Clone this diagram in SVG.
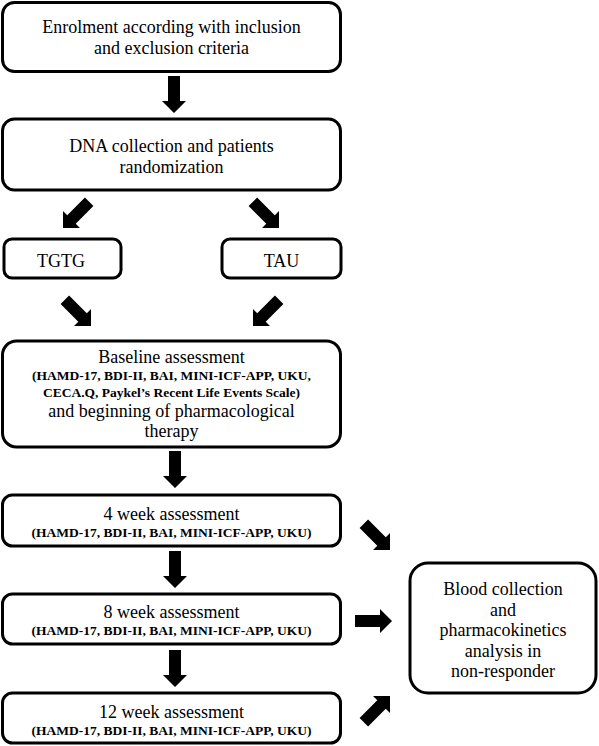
<svg xmlns="http://www.w3.org/2000/svg" xmlns:xlink="http://www.w3.org/1999/xlink" width="599" height="746" viewBox="0 0 599 746">
<style>
.box{fill:#fff;stroke:#000;stroke-width:3}
text{font-family:'Liberation Serif','Times New Roman','DejaVu Serif',serif;fill:#000;text-anchor:middle}
.t{font-size:18px}
.s{font-size:13.5px;font-weight:bold}
</style>
<defs>
<path id="arr" d="M0,0 L-12,-12 L-12,-6 L-37,-6 L-37,6 L-12,6 L-12,12 Z" fill="#000"/>
</defs>
<rect width="599" height="746" fill="#fff"/>
<g id="enrolment">
<rect class="box" x="2.5" y="2.5" width="338" height="69" rx="12"/>
<text class="t" x="171.5" y="33">Enrolment according with inclusion</text>
<text class="t" x="171.5" y="54">and exclusion criteria</text>
</g>
<g id="dna">
<rect class="box" x="2.5" y="119" width="338" height="71" rx="12"/>
<text class="t" x="171.5" y="152">DNA collection and patients</text>
<text class="t" x="171.5" y="173">randomization</text>
</g>
<g id="tgtg">
<rect class="box" x="4" y="239" width="117" height="39" rx="8"/>
<text class="t" x="61" y="267">TGTG</text>
</g>
<g id="tau">
<rect class="box" x="222" y="239" width="119" height="39" rx="8"/>
<text class="t" x="281.5" y="267">TAU</text>
</g>
<g id="baseline">
<rect class="box" x="2.5" y="341" width="338" height="106" rx="14"/>
<text class="t" x="171.5" y="363">Baseline assessment</text>
<text class="s" x="171.5" y="380">(HAMD-17, BDI-II, BAI, MINI-ICF-APP, UKU,</text>
<text class="s" x="171.5" y="397">CECA.Q, Paykel’s Recent Life Events Scale)</text>
<text class="t" x="171.5" y="417">and beginning of pharmacological</text>
<text class="t" x="171.5" y="437">therapy</text>
</g>
<g id="week4">
<rect class="box" x="2.5" y="495" width="338" height="51" rx="10"/>
<text class="t" x="171.5" y="520">4 week assessment</text>
<text class="s" x="171.5" y="537">(HAMD-17, BDI-II, BAI, MINI-ICF-APP, UKU)</text>
</g>
<g id="week8">
<rect class="box" x="2.5" y="594" width="338" height="50" rx="10"/>
<text class="t" x="171.5" y="618">8 week assessment</text>
<text class="s" x="171.5" y="635">(HAMD-17, BDI-II, BAI, MINI-ICF-APP, UKU)</text>
</g>
<g id="week12">
<rect class="box" x="2.5" y="693" width="338" height="50" rx="10"/>
<text class="t" x="171.5" y="718">12 week assessment</text>
<text class="s" x="171.5" y="735">(HAMD-17, BDI-II, BAI, MINI-ICF-APP, UKU)</text>
</g>
<g id="blood">
<rect class="box" x="410" y="563" width="186" height="130" rx="18"/>
<text class="t" x="503" y="595">Blood collection</text>
<text class="t" x="503" y="615.5">and</text>
<text class="t" x="503" y="636">pharmacokinetics</text>
<text class="t" x="503" y="656.5">analysis in</text>
<text class="t" x="503" y="677">non-responder</text>
</g>
<g id="connectors">
<use xlink:href="#arr" transform="translate(174,113) rotate(90)"/>
<use xlink:href="#arr" transform="translate(63,228) rotate(135)"/>
<use xlink:href="#arr" transform="translate(279,228) rotate(45)"/>
<use xlink:href="#arr" transform="translate(91,326) rotate(45)"/>
<use xlink:href="#arr" transform="translate(253,326) rotate(135)"/>
<use xlink:href="#arr" transform="translate(175,488) rotate(90)"/>
<use xlink:href="#arr" transform="translate(175,588) rotate(90)"/>
<use xlink:href="#arr" transform="translate(175,687) rotate(90)"/>
<use xlink:href="#arr" transform="translate(390,550) rotate(45)"/>
<use xlink:href="#arr" transform="translate(392,621) rotate(0)"/>
<use xlink:href="#arr" transform="translate(390,696) rotate(-45)"/>
</g>
</svg>
